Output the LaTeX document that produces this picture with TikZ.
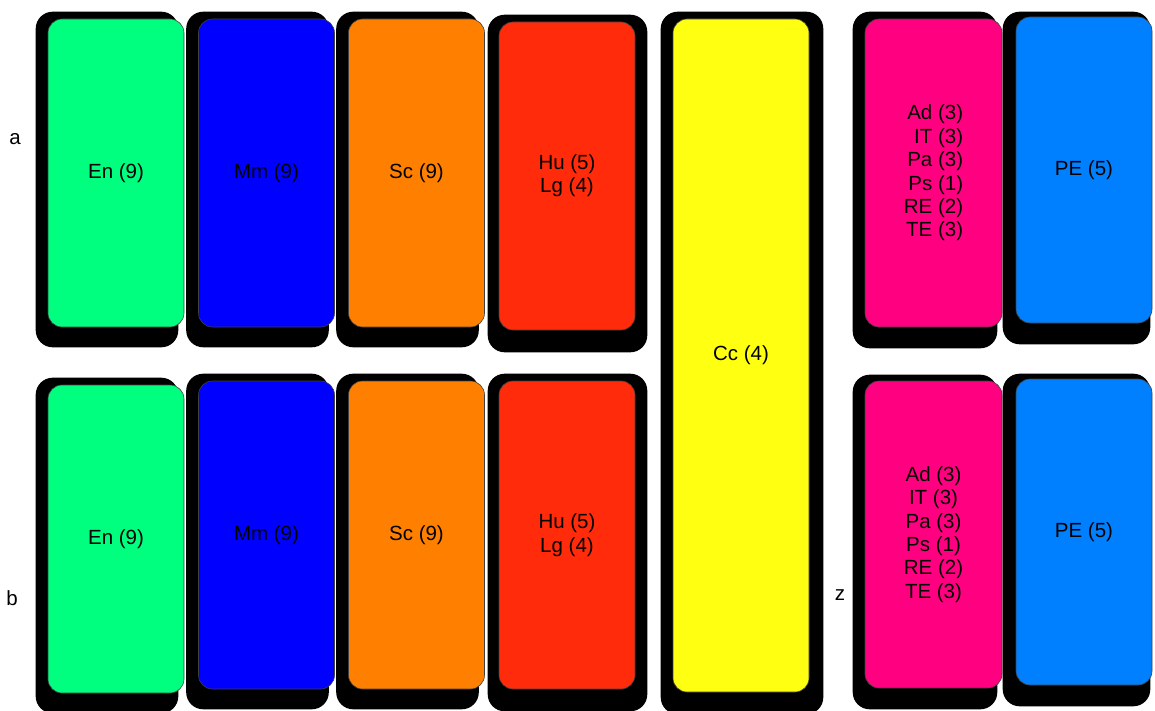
\documentclass[tikz,border=0pt]{standalone}
\usepackage{fontspec}
\setmainfont{Liberation Sans}
\usepackage{tikz}
\usetikzlibrary{calc, backgrounds}

\definecolor{enGreen}{RGB}{0,255,127}
\definecolor{mmBlue}{RGB}{0,0,255}
\definecolor{scOrange}{RGB}{255,128,0}
\definecolor{huRed}{RGB}{255,43,10}
\definecolor{ccYellow}{RGB}{255,255,17}
\definecolor{adPink}{RGB}{255,0,128}
\definecolor{peBlue}{RGB}{0,128,255}

\begin{document}
\begin{tikzpicture}[x=1pt, y=-1pt,
  every node/.style={font=\fontsize{20.5}{23.4}\selectfont},
  unit/.style={draw=black!75, line width=0.6pt, rounded corners=14pt, inner sep=0pt,
    minimum width=136, minimum height=308},
  backdrop/.style={fill=black, rounded corners=17pt}]

  \useasboundingbox (0,0) rectangle (1155,711);

  % top row
  \node[unit, fill=enGreen] (en1) at (116,173) {En (9)};
  \node[unit, fill=mmBlue] (mm1) at (266.5,173) {Mm (9)};
  \node[unit, fill=scOrange] (sc1) at (416.5,173) {Sc (9)};
  \node[unit, fill=huRed, align=center] (hu1) at (567,176) {Hu (5)\\Lg (4)};
  \node[unit, fill=adPink, align=right, minimum width=137] (ad1) at (933.5,173)
    {Ad (3)\\IT (3)\\Pa (3)\\Ps (1)\\RE (2)\\TE (3)};
  \node[unit, fill=peBlue, minimum height=306] (pe1) at (1084,170) {PE (5)};

  % shared column
  \node[unit, fill=ccYellow, minimum height=673] (cc) at (741,355.5) {Cc (4)};

  % bottom row
  \node[unit, fill=enGreen] (en2) at (116,539) {En (9)};
  \node[unit, fill=mmBlue] (mm2) at (266.5,535) {Mm (9)};
  \node[unit, fill=scOrange] (sc2) at (416.5,535) {Sc (9)};
  \node[unit, fill=huRed, align=center] (hu2) at (567,535) {Hu (5)\\Lg (4)};
  \node[unit, fill=adPink, align=center, minimum width=137, minimum height=307] (ad2) at (933.5,534.5)
    {Ad (3)\\IT (3)\\Pa (3)\\Ps (1)\\RE (2)\\TE (3)};
  \node[unit, fill=peBlue, minimum height=306] (pe2) at (1084,532) {PE (5)};

  % row labels
  \node (lblA) at (15,139) {a};
  \node (lblB) at (12,598) {b};
  \node (lblZ) at (840,595) {z};

  % shadows
  \begin{scope}[on background layer]
    \fill[backdrop] ($(en1.north west)+(-12,-7)$) rectangle ($(en1.south east)+(-6,20)$);
    \fill[backdrop] ($(mm1.north west)+(-12,-7)$) rectangle ($(mm1.south east)+(-6,20)$);
    \fill[backdrop] ($(sc1.north west)+(-12,-7)$) rectangle ($(sc1.south east)+(-6,20)$);
    \fill[backdrop] ($(hu1.north west)+(-11,-7)$) rectangle ($(hu1.south east)+(12,22)$);
    \fill[backdrop] ($(ad1.north west)+(-12,-7)$) rectangle ($(ad1.south east)+(-5,21)$);
    \fill[backdrop] ($(pe1.north west)+(-13,-5)$) rectangle ($(pe1.south east)+(-2,21)$);
    \fill[backdrop] ($(cc.north west)+(-12,-7)$) rectangle ($(cc.south east)+(14,22)$);
    \fill[backdrop] ($(en2.north west)+(-12,-7)$) rectangle ($(en2.south east)+(-6,20)$);
    \fill[backdrop] ($(mm2.north west)+(-12,-7)$) rectangle ($(mm2.south east)+(-6,20)$);
    \fill[backdrop] ($(sc2.north west)+(-12,-7)$) rectangle ($(sc2.south east)+(-6,20)$);
    \fill[backdrop] ($(hu2.north west)+(-11,-7)$) rectangle ($(hu2.south east)+(12,22)$);
    \fill[backdrop] ($(ad2.north west)+(-12,-6)$) rectangle ($(ad2.south east)+(-5,21)$);
    \fill[backdrop] ($(pe2.north west)+(-13,-5)$) rectangle ($(pe2.south east)+(-2,21)$);
  \end{scope}
\end{tikzpicture}
\end{document}
